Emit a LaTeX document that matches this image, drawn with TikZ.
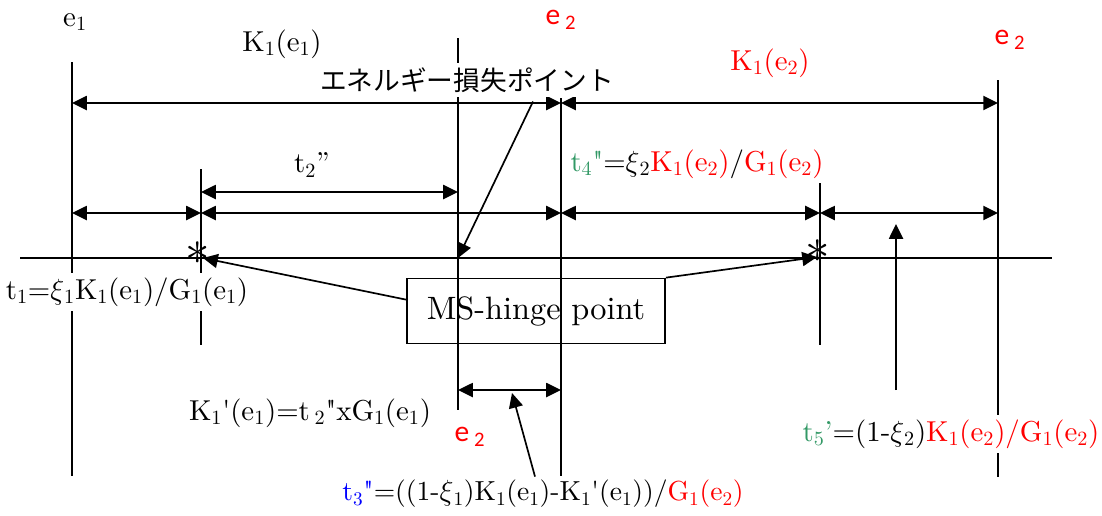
\documentclass[tikz,border=0pt]{standalone}
\usepackage{fontspec}
\usepackage{xcolor}
\usepackage{graphicx}
\usepackage{tikz}
\usetikzlibrary{arrows.meta, positioning}
\setmainfont{lmroman10-regular.otf}
\newfontfamily\jpfont{Noto Sans CJK JP}
\newfontfamily\esans{Carlito}
\definecolor{tgreen}{RGB}{51,153,102}
\newcommand{\sub}[1]{\textsubscript{#1}}

\begin{document}
\begin{tikzpicture}[x=0.025cm, y=-0.025cm, line width=1.2pt,
    dim/.style={{Triangle[length=10.5pt,width=10pt]}-{Triangle[length=10.5pt,width=10pt]}},
    ptr/.style={-{Triangle[length=10.5pt,width=10pt]}},
    lbl/.style={font=\fontsize{20.5}{24}\selectfont, inner sep=2pt},
    wlbl/.style={lbl, fill=white, inner sep=3pt},
    elbl/.style={font=\esans\fontsize{21}{24}\selectfont, red, inner sep=1pt},
    star/.style={font=\fontsize{24}{26}\selectfont, inner sep=0pt},
    hbox/.style={draw, minimum width=6.45cm, minimum height=1.625cm,
                 font=\fontsize{23}{26}\selectfont}
]
\useasboundingbox (0,0) rectangle (1102,515);

% vertical lines
\draw (72,62) -- (72,476);
\draw (201,169) -- (201,345);
\draw (458,38) -- (458,410);
\draw (561,98) -- (561,476);
\draw (820,183) -- (820,345);
\draw (998,80) -- (998,477);
\draw (20,258) -- (1052,258);

% dimension arrows
\draw[dim] (72,103) -- (561,103);
\draw[dim] (561,103) -- (998,103);
\draw[dim] (201,192) -- (458,192);
\draw[dim] (72,213) -- (201,213);
\draw[dim] (201,213) -- (561,213);
\draw[dim] (561,213) -- (820,213);
\draw[dim] (820,213) -- (998,213);
\draw[dim] (458,390) -- (561,390);

% labels
\node[lbl]  (e1)    at (75,22)   {e\sub{1}};
\node[lbl]  (k1e1)  at (282,44)  {K\sub{1}(e\sub{1})};
\node[elbl] (e2a)   at (561,20)  {e\,\sub{2}};
\node[fill=white, inner sep=3pt, font=\jpfont\fontsize{19}{22}\selectfont]
            (loss)  at (467,80)  {エネルギー損失ポイント};
\node[lbl, red] (k1e2) at (770,63) {K\sub{1}(e\sub{2})};
\node[elbl] (e2b)   at (1010,40) {e\,\sub{2}};
\node[lbl]  (t2)    at (312,165) {t\sub{2}''};
\node[wlbl] (t4)    at (697,164)
    {{\color{tgreen}t\sub{4}\textquotedbl}=$\xi$\sub{2}{\color{red}K\sub{1}(e\sub{2})}/{\color{red}G\sub{1}(e\sub{2})}};
\node[wlbl] (t1)    at (127,292)
    {t\sub{1}=$\xi$\sub{1}K\sub{1}(e\sub{1})/G\sub{1}(e\sub{1})};
\node[star] (star1) at (198,253) {\scalebox{1.4}{$\ast$}};
\node[star] (star2) at (818,251) {\scalebox{1.4}{$\ast$}};
\node[hbox] (hinge) at (536,311) {MS-hinge point};
\node[lbl]  (k1p)   at (310,413)
    {K\sub{1}\textquotesingle(e\sub{1})=t\,\sub{2}\textquotedbl xG\sub{1}(e\sub{1})};
\node[elbl] (e2c)   at (470,437) {e\,\sub{2}};
\node[lbl, font=\fontsize{19.6}{23}\selectfont]  (t3)    at (543,494)
    {{\color{blue}t\sub{3}\textquotedbl}=((1-$\xi$\sub{1})K\sub{1}(e\sub{1})-K\sub{1}\textquotesingle(e\sub{1}))/{\color{red}G\sub{1}(e\sub{2})}};
\node[wlbl] (t5)    at (951,434)
    {{\color{tgreen}t\sub{5}'}=(1-$\xi$\sub{2}){\color{red}K\sub{1}(e\sub{2})/G\sub{1}(e\sub{2})}};

% pointers
\coordinate (lossPt) at (458,258);
\coordinate (hingeA) at (203,258);
\coordinate (hingeB) at (817,257);
\coordinate (t3Pt) at (512,393);
\coordinate (t5Pt) at (896,224);
\coordinate (t5Foot) at (896,390);
\draw[ptr] ([xshift=1.65cm, yshift=-0.1cm]loss.south) -- (lossPt);
\draw[ptr] (hinge.175) -- (hingeA);
\draw[ptr] (hinge.north east) -- (hingeB);
\draw[ptr] ([xshift=-0.2cm]t3.north) -- (t3Pt);
\draw[ptr] (t5Foot) -- (t5Pt);
\end{tikzpicture}
\end{document}
